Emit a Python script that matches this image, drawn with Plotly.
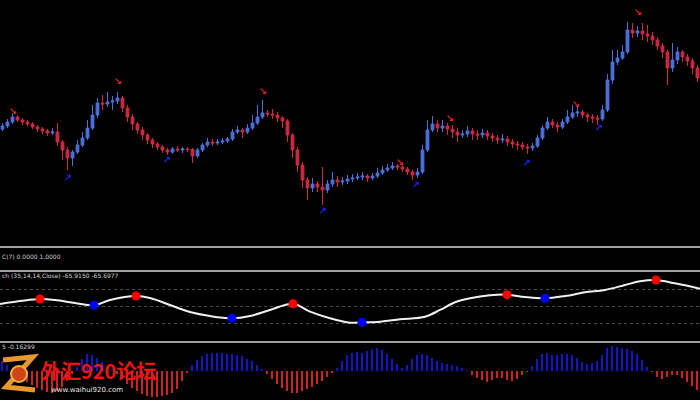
import plotly.graph_objects as go

# ---------------- data ----------------
opens = [121,124,128,133,130,128,126,123,121,119,
         117,118,108,100,92,98,105,112,122,135,
         147,146,148,149,152,142,133,126,120,115,
         110,106,103,100,98,101,100,101,100.5,94,
         100,105,108,107,108,109,111,118,120,118,
         122,127,133,137,136,135,132,129,115,100,
         85,70,62,66,63,60,66,70,68,69,
         71,72,73,74,72,74,77,80,82,84,
         83,81,78,75,78,100,120,126,122,124,
         121,118,115,116,119,116,115,117,114,112,
         110,111,108,106,105,103,102,104,112,122,
         128,125,123,128,133,137,138,135,133,132,
         131,140,170,188,192,198,220,217,219,216,
         214,210,204,198,182,190,198,193,189,182]
closes = [124,128,133,130,128,126,123,121,119,117,
          118,108,100,92,98,105,112,122,135,147,
          146,148,149,152,142,133,126,120,115,110,
          106,103,100,98,101,100,101,100.5,94,100,
          105,108,107,108,109,111,118,120,118,122,
          127,133,137,136,135,132,129,115,100,85,
          70,62,66,63,60,66,70,68,69,71,
          72,73,74,72,74,77,80,82,84,83,
          81,78,75,78,100,120,126,122,124,121,
          118,115,116,119,116,115,117,114,112,110,
          111,108,106,105,103,102,104,112,122,128,
          125,123,128,133,137,138,135,133,132,131,
          140,170,188,192,198,220,217,219,216,214,
          210,204,198,182,190,198,193,189,182,172]
highs = [127,131,136,135,132,130,128,125,123,121,
         122,127,110,103,100,110,118,130,145,152,
         155,158,154,158,154,145,136,128,123,117,
         112,108,105,102,103,104,103,103,102,102,
         107,112,111,111,112,113,121,124,122,126,
         135,145,150,140,141,138,134,131,117,103,
         88,73,72,69,83,70,78,74,73,75,
         76,77,78,76,77,82,84,86,88,86,
         85,83,80,82,105,130,134,130,130,127,
         125,122,120,124,122,120,121,120,117,115,
         116,114,111,109,108,106,107,115,125,133,
         131,128,131,140,145,143,140,137,136,135,
         145,176,200,200,205,228,227,224,227,225,
         218,213,207,200,207,203,200,196,192,185]
lows = [119,122,126,128,125,124,121,118,116,114,
        115,104,90,80,84,96,103,110,120,132,
        140,143,140,146,138,128,120,116,110,106,
        102,100,97,95,96,98,97,98,87,92,
        98,103,104,105,106,107,109,116,112,116,
        120,125,131,133,131,128,122,108,92,78,
        62,50,58,58,45,57,63,63,65,66,
        68,70,70,68,70,72,75,78,80,80,
        78,75,70,72,76,98,118,118,118,115,
        112,108,112,113,110,110,112,110,108,106,
        107,104,102,100,100,96,99,102,110,120,
        122,118,121,126,131,133,132,128,127,125,
        129,138,166,185,190,196,212,213,210,208,
        205,200,192,165,178,186,188,184,176,168]

# arrow signal centres
sell_x = [2.1, 23.1, 52.1, 79.5, 89.5, 114.7, 127.1]
sell_price = [138, 168, 158, 87, 131, 145, 237]
buy_x = [13.1, 32.9, 64.1, 82.7, 104.9, 119.3]
buy_price = [72, 90, 39, 65, 87, 122]

stoch_x = [-0.5,7.5,10.5,14.5,18.3,21.5,26.7,29.5,33.5,37.5,
           41.5,45.9,49.5,53.5,58.1,61.5,65.5,69.5,71.9,75.5,
           79.5,84.5,87.5,90.5,93.5,97.5,100.9,104.5,108.5,112.5,
           116.5,120.5,124.5,127.5,130.7,134.5,139.5]
stoch_y = [-46.6,-39.3,-40.7,-45.1,-48.5,-40.7,-34.9,-37.8,-48.1,-58.4,
           -64.3,-67.6,-64.3,-55.4,-46.2,-57.9,-67.6,-74.1,-73.5,-72.6,
           -69.1,-65.3,-55.4,-44.1,-38.2,-33.8,-32.9,-36.3,-38.2,-34.9,
           -29.4,-26.0,-18.7,-13.2,-11.3,-16.2,-24.1]
red_dot_pos = [1, 6, 14, 26, 34]
blue_dot_pos = [4, 11, 18, 28]
stoch_levels = [-75, -50, -25]

hist = [10,6,-2,-5,-8,-11,-14,-17,-19,-21,
        -22,-20,-16,-10,-3,4,12,17,16,13,
        9,5,2,-3,-8,-13,-17,-20,-23,-25,
        -26,-26,-25,-24,-22,-18,-10,-2,6,11,
        15,17,18,18,18,17,17,16,15,12,
        10,6,2,-3,-8,-13,-17,-20,-22,-22,
        -20,-18,-16,-13,-10,-6,-2,3,10,16,
        18,19,18,20,22,23,21,17,12,7,
        3,6,12,16,17,16,13,10,8,7,
        6,5,3,1,-4,-7,-9,-11,-9,-7,
        -7,-9,-10,-8,-4,-1,5,12,17,18,
        16,16,17,17,16,13,9,7,8,10,
        16,23,25,24,23,22,20,17,11,4,
        -1,-6,-8,-6,-4,-4,-7,-11,-15,-19]

label_panel2 = "C(7) 0.0000 1.0000"
label_stoch = "ch (35,14,14,Close) -65.9150 -65.6977"
label_hist = "5 -0.16299"
logo_text = "外汇920论坛"
logo_url = "www.waihui920.com"

idx = list(range(len(closes)))

W, H = 700, 400
def px(x, y):
    return x / W, 1 - y / H

fig = go.Figure()

fig.add_trace(go.Candlestick(
    x=idx, open=opens, high=highs, low=lows, close=closes,
    increasing=dict(line=dict(color='#4a70dc', width=1), fillcolor='#4a70dc'),
    decreasing=dict(line=dict(color='#cc2a40', width=1), fillcolor='#cc2a40'),
    whiskerwidth=0, xaxis='x', yaxis='y', showlegend=False, hoverinfo='skip'))

fig.add_trace(go.Scatter(
    x=sell_x, y=sell_price, mode='text', xaxis='x', yaxis='y',
    text=['↘'] * len(sell_x), textposition='middle center',
    textfont=dict(family='DejaVu Sans', size=10, color='#e02424', weight='bold'),
    showlegend=False, hoverinfo='skip'))
fig.add_trace(go.Scatter(
    x=buy_x, y=buy_price, mode='text', xaxis='x', yaxis='y',
    text=['↗'] * len(buy_x), textposition='middle center',
    textfont=dict(family='DejaVu Sans', size=10, color='#2020e8', weight='bold'),
    showlegend=False, hoverinfo='skip'))

fig.add_trace(go.Scatter(
    x=stoch_x, y=stoch_y, mode='lines', xaxis='x', yaxis='y3',
    line=dict(color='#f0f0f0', width=2, shape='spline', smoothing=1.0),
    showlegend=False, hoverinfo='skip'))
fig.add_trace(go.Scatter(
    x=[stoch_x[i] for i in red_dot_pos], y=[stoch_y[i] for i in red_dot_pos],
    mode='markers', xaxis='x', yaxis='y3',
    marker=dict(size=9, color='#ff0000'), showlegend=False, hoverinfo='skip'))
fig.add_trace(go.Scatter(
    x=[stoch_x[i] for i in blue_dot_pos], y=[stoch_y[i] for i in blue_dot_pos],
    mode='markers', xaxis='x', yaxis='y3',
    marker=dict(size=9, color='#0000ff'), showlegend=False, hoverinfo='skip'))

fig.add_trace(go.Bar(
    x=idx, y=hist, xaxis='x', yaxis='y4', width=0.32,
    marker=dict(color=['#1414c8' if v >= 0 else '#cc2222' for v in hist], line=dict(width=0)),
    showlegend=False, hoverinfo='skip'))

noax = dict(showgrid=False, zeroline=False, showticklabels=False, showline=False, ticks='')

shapes = []
for ysep in [247, 271, 342]:
    shapes.append(dict(type='line', xref='paper', yref='paper', x0=0, x1=1,
                       y0=1 - ysep / H, y1=1 - ysep / H,
                       line=dict(color='#a0a0a0', width=2)))

# logo swirl
def path(points):
    s = ''
    for k, (x, y) in enumerate(points):
        X, Y = px(x, y)
        s += ('M' if k == 0 else 'L') + f'{X:.5f},{Y:.5f} '
    return s
shapes.append(dict(type='path', xref='paper', yref='paper',
                   path=path([(3, 360), (33, 357), (6, 387), (35, 390)]),
                   line=dict(color='#e8982c', width=5)))
cx0, cy0 = px(11, 366)
cx1, cy1 = px(27, 382)
shapes.append(dict(type='circle', xref='paper', yref='paper', x0=cx0, y0=cy0, x1=cx1, y1=cy1,
                   fillcolor='#d0441a', line=dict(color='#f0b040', width=2)))

annotations = []
for txt, yy in [(label_panel2, 256), (label_stoch, 275), (label_hist, 346)]:
    annotations.append(dict(text=txt, x=0, y=1 - yy / H, xref='paper', yref='paper',
                            xanchor='left', yanchor='middle', showarrow=False,
                            font=dict(family='DejaVu Sans', size=6, color='#d0d0d0')))
lx, ly = px(98, 370)
annotations.append(dict(text=logo_text, x=lx, y=ly, xref='paper', yref='paper',
                        xanchor='center', yanchor='middle', showarrow=False,
                        font=dict(family='Noto Sans CJK SC', size=20, color='#ee1414', weight='bold')))
ux, uy = px(87, 390)
annotations.append(dict(text=logo_url, x=ux, y=uy, xref='paper', yref='paper',
                        xanchor='center', yanchor='middle', showarrow=False,
                        font=dict(family='DejaVu Sans', size=7, color='#e8e8e8')))

fig.update_layout(
    width=W, height=H, margin=dict(l=0, r=0, t=0, b=0),
    paper_bgcolor='#000000', plot_bgcolor='#000000',
    showlegend=False, boxgap=0.2, bargap=0,
    xaxis=dict(range=[-0.5, 139.5], rangeslider=dict(visible=False), **noax),
    yaxis=dict(domain=[1 - 245 / H, 1], range=[5, 250], **noax),
    yaxis3=dict(domain=[(H - 340.3) / H, (H - 272.3) / H], range=[-100, 0], anchor='x',
                showgrid=True, gridcolor='#4a4a4a', griddash='dot', gridwidth=1,
                tickvals=stoch_levels, zeroline=False, showticklabels=False, showline=False, ticks=''),
    yaxis4=dict(domain=[0, (H - 343) / H], range=[-29, 28], anchor='x', **noax),
    shapes=shapes, annotations=annotations,
)

fig.write_html("out.html", config={'displayModeBar': False},
               post_script="document.body.style.margin='0px';document.body.style.padding='0px';"
                           "document.body.style.background='#000000';")
